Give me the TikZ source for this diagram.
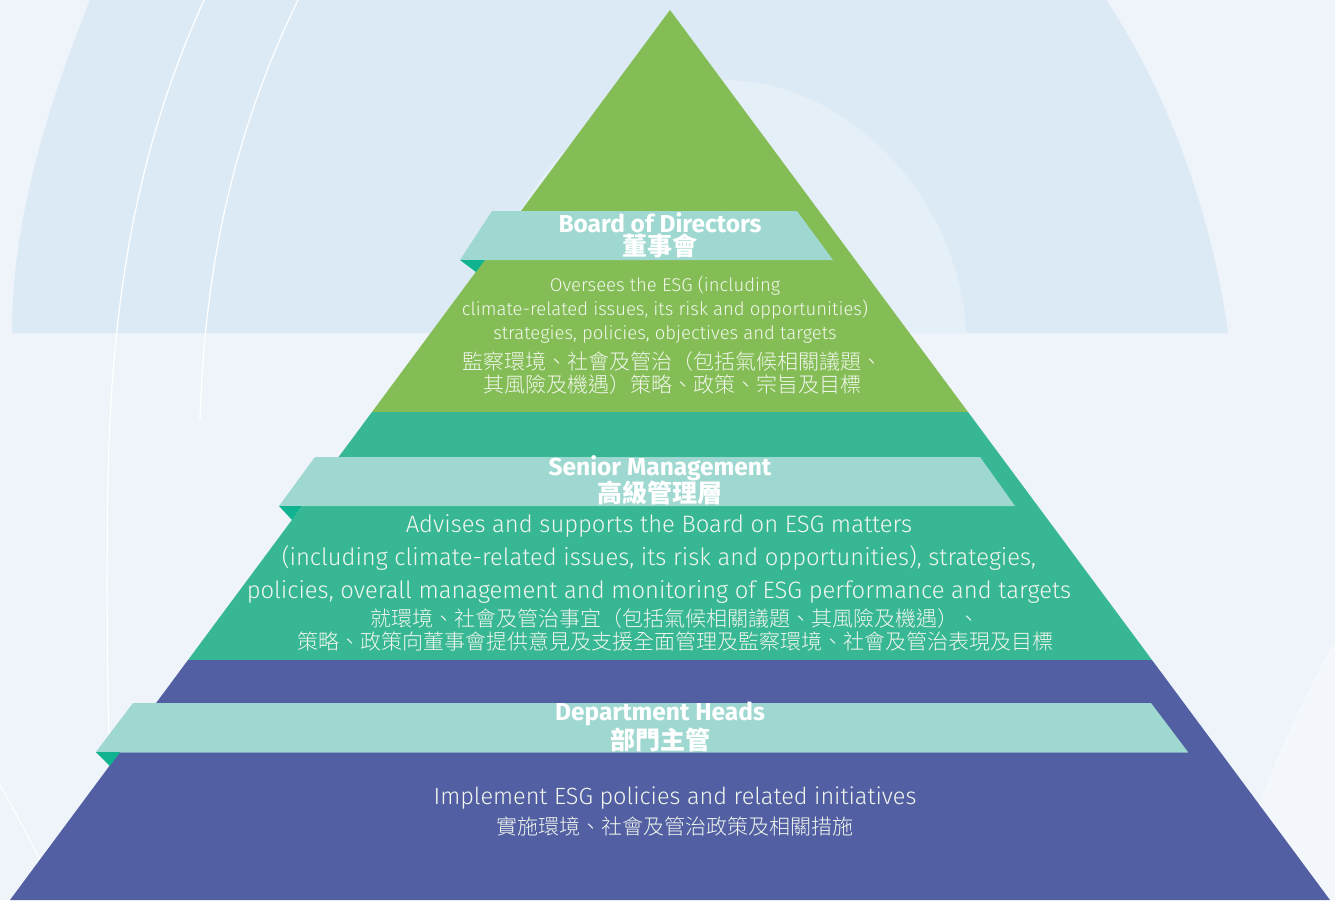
\documentclass[tikz,border=0pt]{standalone}
\usepackage{fontspec}
\setmainfont{Fira Sans Light}[BoldFont={Fira Sans Bold}]
\newfontfamily\cjk{Noto Sans CJK TC}
\newfontfamily\cjklight{Noto Sans CJK TC Light}

\definecolor{bgpale}{HTML}{EEF4FA}
\definecolor{bgarch}{HTML}{DCEAF5}
\definecolor{bginner}{HTML}{E5EFF8}
\definecolor{levelone}{HTML}{84BD55}
\definecolor{leveltwo}{HTML}{37B794}
\definecolor{levelthree}{HTML}{525FA3}
\definecolor{bannercol}{HTML}{9FD8D0}
\definecolor{foldcol}{HTML}{10B38F}
\definecolor{textcol}{HTML}{F2F7EE}

\tikzset{
  banner/.style={fill=bannercol},
  fold/.style={fill=foldcol},
  title/.style={text=white, font=\bfseries\fontsize{24.5}{24}\selectfont, inner sep=0pt},
  titlezh/.style={text=white, font=\cjk\bfseries\fontsize{25}{25}\selectfont, inner sep=0pt},
  desc/.style={text=textcol, align=center, inner sep=0pt},
  desczh/.style={text=textcol, align=center, inner sep=0pt, font=\cjklight\fontsize{21}{23.5}\selectfont}
}

\begin{document}
\begin{tikzpicture}[x=1pt,y=-1pt]
\useasboundingbox (0,0) rectangle (1335,900);

% background
\fill[bgpale] (0,0) rectangle (1335,900);
\fill[bgarch] (90,0) .. controls (30,150) and (12,250) .. (12,333) -- (1228,333) .. controls (1210,200) and (1160,80) .. (1106,0) -- cycle;
\fill[bginner] (489,333) .. controls (495,180) and (610,80) .. (723,80) .. controls (850,80) and (960,200) .. (966,333) -- cycle;
\draw[white, line width=1.2pt] (204,0) .. controls (150,120) and (112,260) .. (108,480) .. controls (105,650) and (110,800) .. (115,900);
\draw[white, line width=1.2pt] (298,0) .. controls (240,120) and (205,250) .. (200,420);
\draw[white, line width=1pt] (0,785) .. controls (20,820) and (40,860) .. (60,900);
\fill[white, opacity=.4] (1335,640) .. controls (1290,720) and (1250,820) .. (1225,900) -- (1335,900) -- cycle;

% pyramid
\coordinate (apex) at (670,10);
\fill[levelone] (apex) -- (968,412) -- (372,412) -- cycle;
\fill[leveltwo] (372,412) -- (968,412) -- (1152,660) -- (188,660) -- cycle;
\fill[levelthree] (188,660) -- (1152,660) -- (1330,900) -- (10,900) -- cycle;

% banners
\fill[banner] (492,211) -- (797,211) -- (833,260) -- (460,260) -- cycle;
\fill[fold] (460,260) -- (485,260) -- (476,272) -- cycle;

\fill[banner] (315,457) -- (980,457) -- (1015,506) -- (279,506) -- cycle;
\fill[fold] (279,506) -- (302,506) -- (292,520) -- cycle;

\fill[banner] (133,703) -- (1151,703) -- (1188,752) -- (96,752) -- cycle;
\draw[levelthree!40!bannercol, line width=1pt] (96,752) -- (1188,752);
\fill[fold] (96,752) -- (120,752) -- (110,766) -- cycle;

% board of directors
\node[title] (boardtitle) at (660,223) {Board of Directors};
\node[titlezh] (boardtitlezh) at (660,246) {董事會};
\node[desc, font=\fontsize{18.5}{24}\selectfont] (boarden) at (665,310)
  {Oversees the ESG (including\\
   climate-related issues, its risk and opportunities)\\
   strategies, policies, objectives and targets};
\node[desczh] (boardzh) at (672,373)
  {監察環境、社會及管治（包括氣候相關議題、\\
   其風險及機遇）策略、政策、宗旨及目標};

% senior management
\node[title] (seniortitle) at (660,468) {Senior Management};
\node[titlezh] (seniortitlezh) at (660,493) {高級管理層};
\node[desc, font=\fontsize{23.8}{33}\selectfont] (senioren) at (659,559)
  {Advises and supports the Board on ESG matters\\
   (including climate-related issues, its risk and opportunities), strategies,\\
   policies, overall management and monitoring of ESG performance and targets};
\node[desczh] (seniorzh) at (675,630)
  {就環境、社會及管治事宜（包括氣候相關議題、其風險及機遇）、\\
   策略、政策向董事會提供意見及支援全面管理及監察環境、社會及管治表現及目標};

% department heads
\node[title] (depttitle) at (660,714) {Department Heads};
\node[titlezh] (depttitlezh) at (660,740) {部門主管};
\node[desc, font=\fontsize{23.5}{30}\selectfont] (depten) at (675,798)
  {Implement ESG policies and related initiatives};
\node[desczh] (deptzh) at (675,826)
  {實施環境、社會及管治政策及相關措施};

\end{tikzpicture}
\end{document}
